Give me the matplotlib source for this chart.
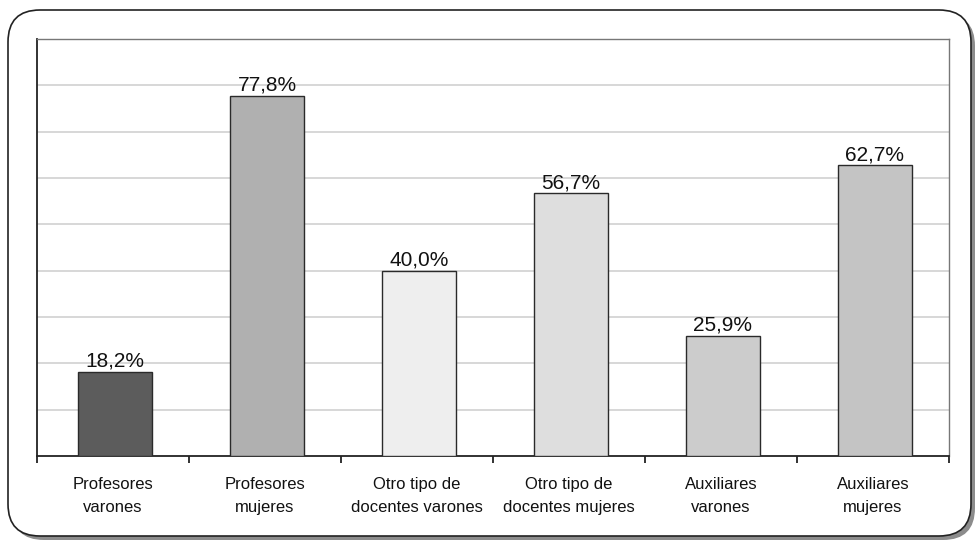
import matplotlib

matplotlib.use("Agg")
import matplotlib.pyplot as plt
from matplotlib.patches import FancyBboxPatch
import numpy as np

categories = ["Profesores\nvarones", "Profesores\nmujeres", "Otro tipo de\ndocentes varones",
              "Otro tipo de\ndocentes mujeres", "Auxiliares\nvarones", "Auxiliares\nmujeres"]
values = [18.2, 77.8, 40.0, 56.7, 25.9, 62.7]
bar_colors = ["#5c5c5c", "#b0b0b0", "#eeeeee", "#dedede", "#cccccc", "#c4c4c4"]

plt.rcParams["font.family"] = ["Liberation Sans Narrow", "Liberation Sans", "DejaVu Sans"]

W, H = 977, 542
fig = plt.figure(figsize=(W / 100, H / 100), dpi=100)

# rounded outer frame with a drop shadow
bg = fig.add_axes([0, 0, 1, 1])
bg.set_xlim(0, W)
bg.set_ylim(H, 0)
bg.axis("off")
shadow = FancyBboxPatch((12, 14), 963, 526, boxstyle="round,pad=0,rounding_size=32",
                        fc="#8c8c8c", ec="none")
frame = FancyBboxPatch((8, 10), 963, 526, boxstyle="round,pad=0,rounding_size=32",
                       fc="white", ec="#222222", lw=1.2)
bg.add_patch(shadow)
bg.add_patch(frame)

ax = fig.add_axes([37 / W, 86 / H, (949 - 37) / W, (456 - 39) / H])
x = np.arange(len(values))
# bars sit a hair right of the category centre
bx = x + 0.013
ax.bar(bx, values, width=0.49, color=bar_colors, edgecolor="#2a2a2a", linewidth=1, zorder=3)
for xi, v in zip(bx, values):
    ax.text(xi, v + 1.1, f"{v:.1f}%".replace(".", ","), ha="center", va="baseline",
            fontsize=15, color="#111111")

ax.set_xlim(-0.5, len(values) - 0.5)
ax.set_ylim(0, 90)
ax.set_yticks(np.arange(10, 90, 10))
ax.yaxis.grid(True, color="#d4d4d4", lw=1.3, zorder=0)
ax.tick_params(axis="y", length=0, labelleft=False)

ax.set_xticks(x)
ax.set_xticklabels(categories, fontsize=12, linespacing=1.65, color="#111111")
ax.tick_params(axis="x", which="major", length=0, pad=15)
ax.set_xticks(np.arange(-0.5, len(values)), minor=True)
ax.tick_params(axis="x", which="minor", length=5, width=1.3, color="#222222", direction="out")

for side in ("top", "right"):
    ax.spines[side].set_color("#777777")
    ax.spines[side].set_linewidth(1)
for side in ("left", "bottom"):
    ax.spines[side].set_color("#222222")
    ax.spines[side].set_linewidth(1.3)

fig.savefig("out.png", dpi=100)
